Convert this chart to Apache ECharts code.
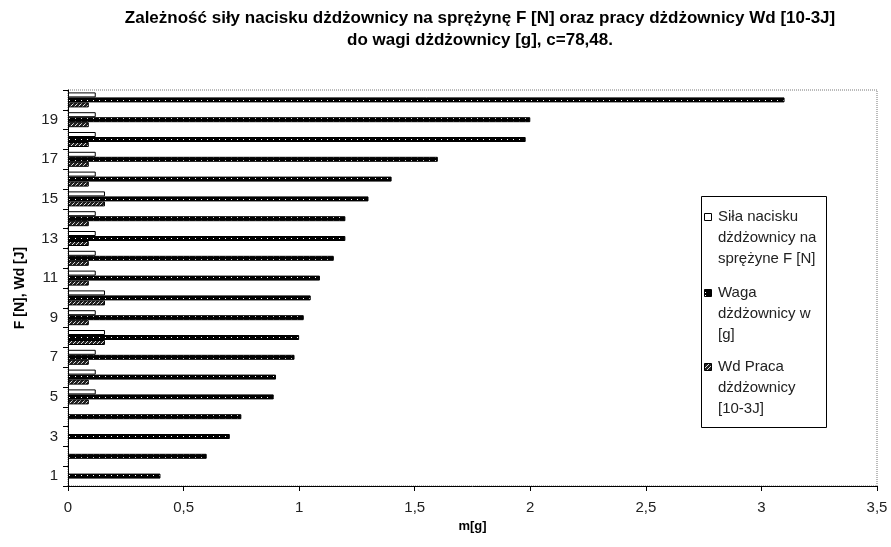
<!DOCTYPE html>
<html>
<head>
<meta charset="utf-8">
<script src="https://cdn.jsdelivr.net/npm/echarts@6/dist/echarts.min.js"></script>
<style>
html,body{margin:0;padding:0;background:#fff;}
#chart{width:891px;height:547px;}
</style>
</head>
<body>
<div id="chart"></div>
<script>
// ---- data ----
const categories = ['1','2','3','4','5','6','7','8','9','10','11','12','13','14','15','16','17','18','19','20'];
const silaValues = [null,null,null,null,0.12,0.12,0.12,0.16,0.12,0.16,0.12,0.12,0.12,0.12,0.16,0.12,0.12,0.12,0.12,0.12];
const wagaValues = [0.40,0.60,0.70,0.75,0.89,0.90,0.98,1.00,1.02,1.05,1.09,1.15,1.20,1.20,1.30,1.40,1.60,1.98,2.00,3.10];
const wdValues   = [null,null,null,null,0.09,0.09,0.09,0.16,0.09,0.16,0.09,0.09,0.09,0.09,0.16,0.09,0.09,0.09,0.09,0.09];
const seriesNames = ['Siła nacisku dżdżownicy na sprężyne F [N]', 'Waga dżdżownicy w [g]', 'Wd Praca dżdżownicy [10-3J]'];
const legendLines = [['Siła nacisku','dżdżownicy na','sprężyne F [N]'],['Waga','dżdżownicy w','[g]'],['Wd Praca','dżdżownicy','[10-3J]']];
const xMin = 0, xMax = 3.5, xStep = 0.5;
const titleText = 'Zależność siły nacisku dżdżownicy na sprężynę F [N] oraz pracy dżdżownicy Wd [10-3J]\ndo wagi dżdżownicy [g], c=78,48.';
const xName = 'm[g]';
const yName = 'F [N], Wd [J]';

// ---- patterns ----
function makePattern(w, h, bg, fg, pts) {
  const c = document.createElement('canvas');
  c.width = w; c.height = h;
  const ctx = c.getContext('2d');
  ctx.fillStyle = bg; ctx.fillRect(0, 0, w, h);
  ctx.fillStyle = fg;
  pts.forEach(p => ctx.fillRect(p[0], p[1], 1, 1));
  return c;
}
const wagaPat = makePattern(6, 3, '#000', '#fff', [[3,1]]);
const wdPat = makePattern(4, 4, '#222', '#ddd', [[0,0],[2,2],[1,3],[3,1]]);

const FONT = '"Liberation Sans", Arial, sans-serif';
const chart = echarts.init(document.getElementById('chart'));

const barCommon = { type: 'bar', barWidth: 5, barGap: '0%', barCategoryGap: '0%' };

// legend drawn as graphic (Excel-style: icon aligned with first line)
const legendX = 701, legendY = 196, legendW = 125, legendH = 231;
const itemTops = [217, 293, 367];
const lineH = 20.7;
const legendIcons = [
  { fill: '#fff' },
  { fill: { image: wagaPat, repeat: 'repeat' } },
  { fill: { image: wdPat, repeat: 'repeat' } }
];
const graphics = [{
  type: 'rect', shape: { x: legendX + 0.5, y: legendY + 0.5, width: legendW, height: legendH },
  style: { fill: '#fff', stroke: '#000', lineWidth: 1 }, z: 100
}];
legendLines.forEach((lines, i) => {
  graphics.push({
    type: 'rect', shape: { x: 704.5, y: itemTops[i] - 3.5, width: 7, height: 7 },
    style: { fill: legendIcons[i].fill, stroke: '#000', lineWidth: 1 }, z: 101
  });
  lines.forEach((ln, j) => {
    graphics.push({
      type: 'text', x: 718, y: itemTops[i] + j * lineH,
      style: { text: ln, font: '15px ' + FONT, fill: '#222', textVerticalAlign: 'middle' }, z: 101
    });
  });
});

chart.setOption({
  backgroundColor: '#fff',
  animation: false,
  title: {
    text: titleText,
    left: 480, top: 7, textAlign: 'center', padding: 0,
    textStyle: { fontFamily: FONT, fontSize: 17, fontWeight: 'bold', color: '#000', lineHeight: 22 }
  },
  grid: { left: 68, right: 14, top: 90, bottom: 61, show: true, borderColor: '#777', borderWidth: 1, borderType: 'dotted', backgroundColor: 'transparent' },
  xAxis: {
    type: 'value', min: xMin, max: xMax, interval: xStep,
    name: xName, nameLocation: 'middle', nameGap: 24,
    nameTextStyle: { fontFamily: FONT, fontSize: 13, fontWeight: 'bold', color: '#000' },
    axisLine: { show: true, lineStyle: { color: '#000', width: 1 } },
    axisTick: { show: true, length: 5, lineStyle: { color: '#000' } },
    axisLabel: { fontFamily: FONT, fontSize: 15, color: '#222', margin: 14, formatter: v => String(v).replace('.', ',') },
    splitLine: { show: false }
  },
  yAxis: {
    type: 'category', data: categories,
    name: yName, nameLocation: 'middle', nameRotate: 90, nameGap: 41,
    nameTextStyle: { fontFamily: FONT, fontSize: 14, fontWeight: 'bold', color: '#000' },
    axisLine: { show: true, lineStyle: { color: '#000', width: 1 } },
    axisTick: { show: true, length: 5, interval: 0, lineStyle: { color: '#000' } },
    axisLabel: { interval: 1, fontFamily: FONT, fontSize: 15, color: '#222', margin: 10 },
    splitLine: { show: false }
  },
  series: [
    Object.assign({}, barCommon, { name: seriesNames[0], data: silaValues,
      itemStyle: { color: '#fff', borderColor: '#000', borderWidth: 1 } }),
    Object.assign({}, barCommon, { name: seriesNames[1], data: wagaValues,
      itemStyle: { color: { image: wagaPat, repeat: 'repeat' }, borderColor: '#000', borderWidth: 1 } }),
    Object.assign({}, barCommon, { name: seriesNames[2], data: wdValues,
      itemStyle: { color: { image: wdPat, repeat: 'repeat' }, borderColor: '#000', borderWidth: 1 } })
  ],
  graphic: graphics
});
</script>
</body>
</html>
